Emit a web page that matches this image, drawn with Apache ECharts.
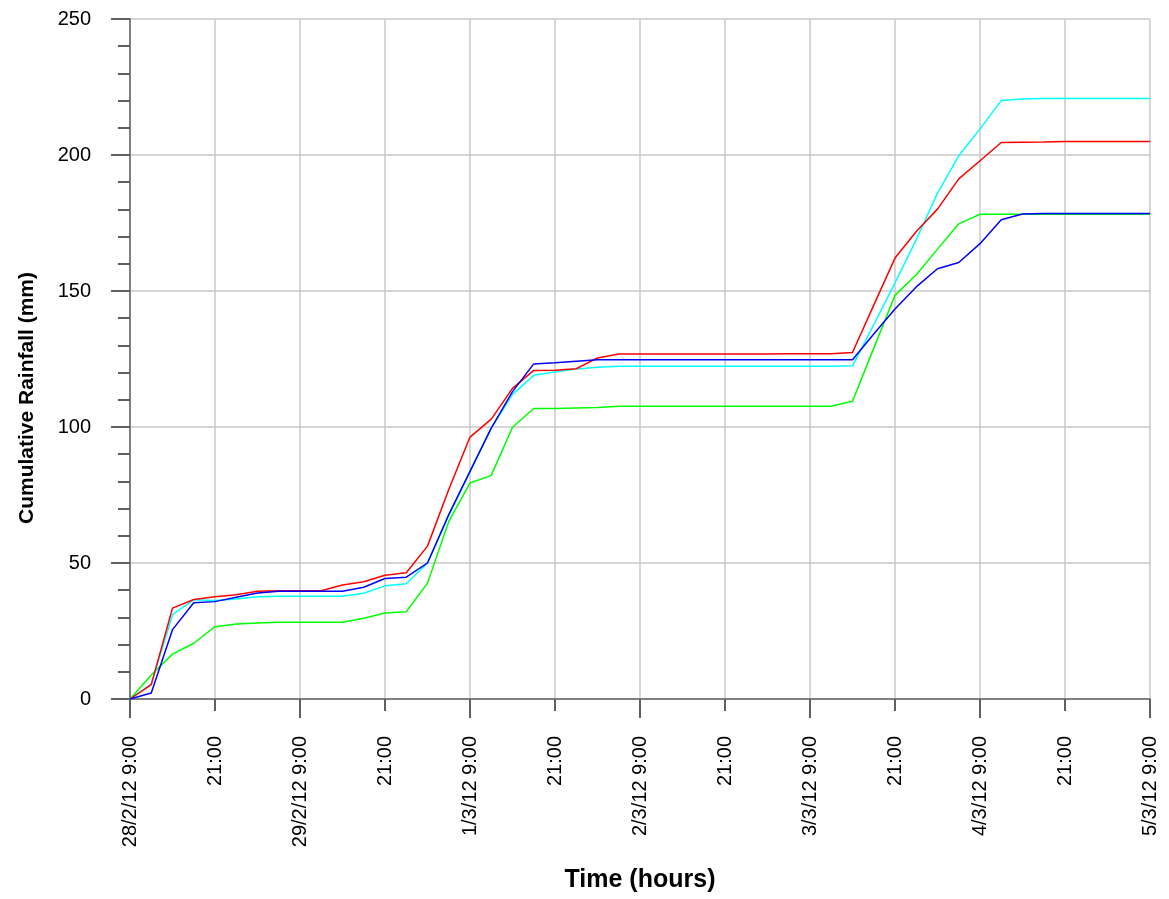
<!DOCTYPE html>
<html>
<head>
<meta charset="utf-8">
<script src="https://cdn.jsdelivr.net/npm/echarts@6/dist/echarts.min.js"></script>
<style>
  html, body { margin: 0; padding: 0; background: #ffffff; }
  #chart { width: 1169px; height: 899px; }
</style>
</head>
<body>
<div id="chart"></div>
<script>
// Hours since 28/2/12 9:00 (3-hourly readings)
var hours = [0, 3, 6, 9, 12, 15, 18, 21, 24, 27, 30, 33, 36, 39, 42, 45, 48, 51, 54, 57,
  60, 63, 66, 69, 72, 75, 78, 81, 84, 87, 90, 93, 96, 99, 102, 105, 108, 111, 114, 117,
  120, 123, 126, 129, 132, 135, 138, 141, 144];

var xTickLabels = ['28/2/12 9:00', '21:00', '29/2/12 9:00', '21:00', '1/3/12 9:00', '21:00',
  '2/3/12 9:00', '21:00', '3/3/12 9:00', '21:00', '4/3/12 9:00', '21:00', '5/3/12 9:00'];

var redSeries = [0, 5.3, 33.4, 36.6, 37.6, 38.3, 39.6, 39.8, 39.8, 39.8, 41.9, 43.1, 45.5, 46.4,
  56.2, 77.0, 96.3, 102.9, 114.2, 120.8, 120.9, 121.4, 125.4, 126.8, 126.8, 126.8, 126.8,
  126.8, 126.8, 126.8, 126.8, 126.9, 126.9, 126.9, 127.4, 144.8, 162.1, 171.9, 180.1, 191.2,
  197.9, 204.6, 204.7, 204.8, 205.0, 205.0, 205.0, 205.0, 205.0];

var blueSeries = [0, 2.2, 25.5, 35.4, 35.8, 37.4, 39.0, 39.6, 39.6, 39.6, 39.6, 41.1, 44.3, 44.8,
  50.0, 67.8, 83.7, 99.6, 113.0, 123.2, 123.6, 124.2, 124.7, 124.7, 124.7, 124.7, 124.7,
  124.7, 124.7, 124.7, 124.7, 124.7, 124.7, 124.7, 124.7, 134.2, 143.4, 151.5, 158.2, 160.5,
  167.4, 176.2, 178.3, 178.5, 178.5, 178.5, 178.5, 178.5, 178.5];

var cyanSeries = [0, 5.5, 31.0, 36.5, 36.2, 36.8, 37.6, 37.8, 37.8, 37.8, 37.8, 38.9, 41.6, 42.4,
  50.0, 67.5, 83.7, 99.6, 112.0, 119.0, 120.2, 121.3, 122.0, 122.3, 122.3, 122.3, 122.3,
  122.3, 122.3, 122.3, 122.3, 122.3, 122.3, 122.3, 122.5, 137.6, 153.0, 168.9, 186.0, 199.7,
  209.6, 220.0, 220.6, 220.8, 220.8, 220.8, 220.8, 220.8, 220.8];

var greenSeries = [0, 8.8, 16.5, 20.5, 26.6, 27.6, 27.9, 28.2, 28.2, 28.2, 28.2, 29.7, 31.6, 32.1,
  42.6, 65.3, 79.4, 82.2, 99.9, 106.8, 106.8, 107.0, 107.2, 107.6, 107.6, 107.6, 107.6,
  107.6, 107.6, 107.6, 107.6, 107.6, 107.6, 107.6, 109.5, 129.0, 148.4, 156.0, 165.4, 174.7,
  178.2, 178.2, 178.2, 178.2, 178.2, 178.2, 178.2, 178.2, 178.2];

function pairs(vals) {
  return hours.map(function (h, i) { return [h, vals[i]]; });
}

var FONT = 'Liberation Sans, Arial, sans-serif';
var chart = echarts.init(document.getElementById('chart'), null, { renderer: 'canvas' });

var option = {
  backgroundColor: '#ffffff',
  animation: false,
  grid: { left: 130, right: 19, top: 19, bottom: 200, containLabel: false },
  xAxis: [{
    type: 'value',
    min: 0, max: 144, interval: 12,
    position: 'bottom',
    name: 'Time (hours)',
    nameLocation: 'middle',
    nameGap: 169,
    nameTextStyle: { fontFamily: FONT, fontSize: 25, fontWeight: 'bold', color: '#000' },
    axisLine: { onZero: false, lineStyle: { color: '#808080', width: 2 } },
    axisTick: { show: true, length: 12, lineStyle: { color: '#606060', width: 2 } },
    axisLabel: {
      rotate: 90, margin: 37, color: '#000', fontFamily: FONT, fontSize: 20,
      showMinLabel: true, showMaxLabel: true,
      formatter: function (v) { return xTickLabels[Math.round(v / 12)]; }
    },
    splitLine: { show: true, lineStyle: { color: '#c8c8c8', width: 1.5 } }
  }, {
    type: 'value',
    min: 0, max: 144, interval: 24,
    position: 'bottom',
    axisLine: { show: false, onZero: false },
    axisTick: { show: true, length: 19, lineStyle: { color: '#606060', width: 2 } },
    axisLabel: { show: false },
    splitLine: { show: false }
  }],
  yAxis: {
    type: 'value',
    min: 0, max: 250, interval: 50,
    name: 'Cumulative Rainfall (mm)',
    nameLocation: 'middle',
    nameGap: 92,
    nameTextStyle: { fontFamily: FONT, fontSize: 21, fontWeight: 'bold', color: '#000', padding: [0, 78, 0, 0] },
    axisLine: { show: true, onZero: false, lineStyle: { color: '#808080', width: 2 } },
    axisTick: { show: true, length: 19, lineStyle: { color: '#606060', width: 2 } },
    minorTick: { show: true, splitNumber: 5, length: 12, lineStyle: { color: '#606060', width: 2 } },
    axisLabel: { margin: 39, color: '#000', fontFamily: FONT, fontSize: 20 },
    splitLine: { show: true, lineStyle: { color: '#c8c8c8', width: 1.5 } }
  },
  series: [
    { name: 'Green', type: 'line', data: pairs(greenSeries), showSymbol: false, lineStyle: { color: '#00ff00', width: 1.5 }, itemStyle: { color: '#00ff00' } },
    { name: 'Cyan', type: 'line', data: pairs(cyanSeries), showSymbol: false, lineStyle: { color: '#00ffff', width: 1.5 }, itemStyle: { color: '#00ffff' } },
    { name: 'Red', type: 'line', data: pairs(redSeries), showSymbol: false, lineStyle: { color: '#ff0000', width: 1.5 }, itemStyle: { color: '#ff0000' } },
    { name: 'Blue', type: 'line', data: pairs(blueSeries), showSymbol: false, lineStyle: { color: '#0000ff', width: 1.5 }, itemStyle: { color: '#0000ff' } }
  ]
};
chart.setOption(option);
</script>
</body>
</html>
